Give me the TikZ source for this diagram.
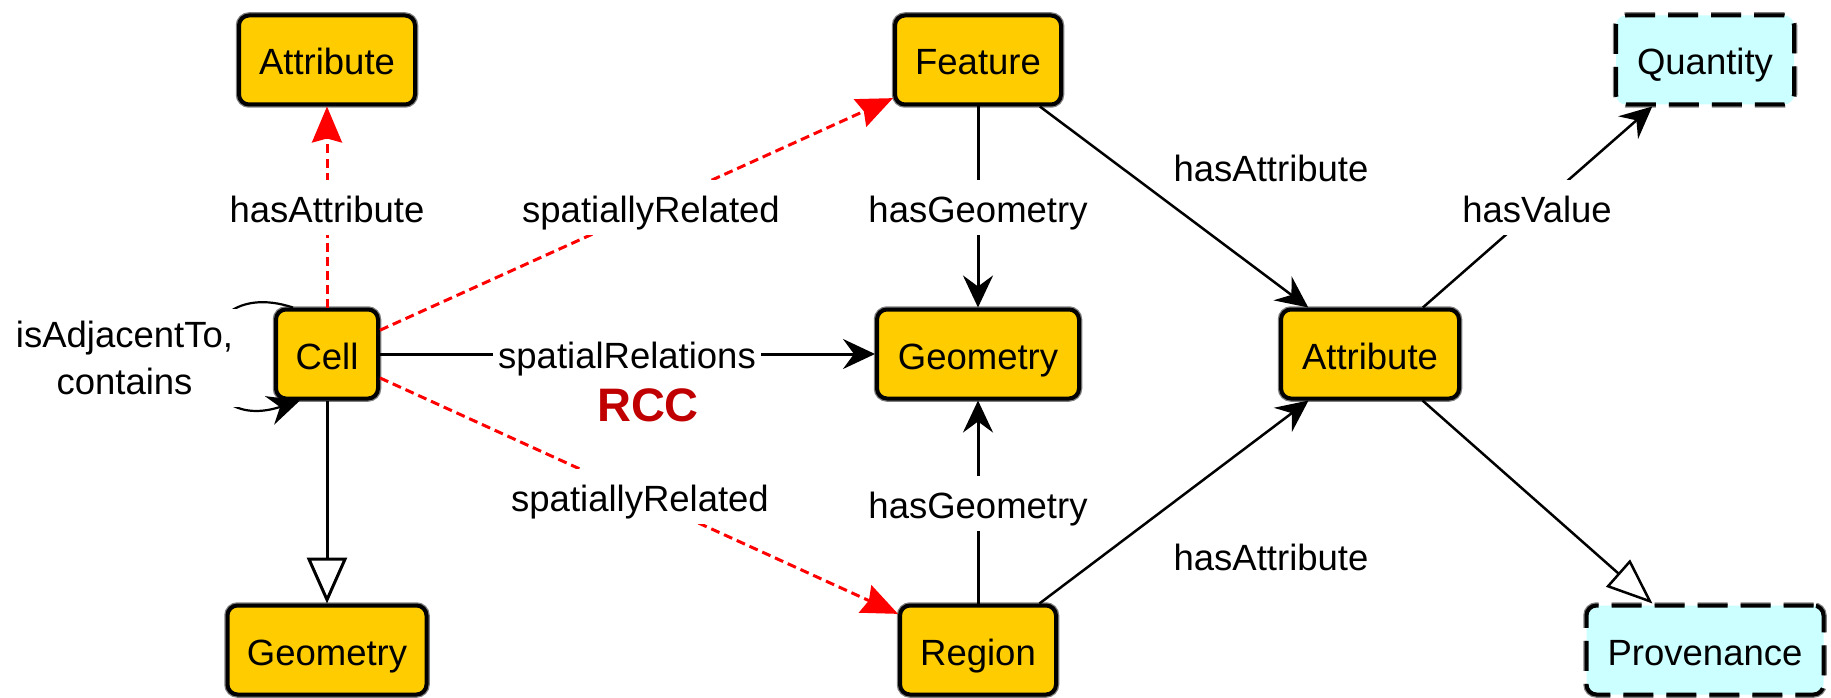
\documentclass[tikz,border=0pt]{standalone}
\usepackage{fontspec}
\setmainfont{Liberation Sans}
\usetikzlibrary{arrows.meta,calc}

\definecolor{clsfill}{HTML}{FFCC00}
\definecolor{extfill}{HTML}{CCFFFF}
\definecolor{rccred}{HTML}{C00000}
\definecolor{halo}{HTML}{7F7F7F}

\begin{document}
\begin{tikzpicture}[x=1pt,y=-1pt,
  font=\fontsize{36.5}{47}\selectfont,
  box/.style={rectangle, rounded corners=10pt, line width=4pt,
    minimum height=89pt, inner sep=0pt, text height=30pt, text depth=0pt},
  cls/.style={box, draw=black, fill=clsfill,
    preaction={draw=halo, line width=6.5pt}},
  ext/.style={box, draw=black, fill=extfill, dash pattern=on 30pt off 13pt,
    preaction={draw=halo, line width=6.5pt, dash pattern=on 30pt off 13pt}},
  rel/.style={line width=3pt, -{Stealth[length=32pt,width=30pt,inset=11pt]}},
  relthin/.style={line width=2.5pt, -{Stealth[length=32pt,width=30pt,inset=11pt]}},
  sprel/.style={draw=red, line width=3pt, dash pattern=on 9pt off 5pt,
    -{Stealth[length=36pt,width=30pt,inset=4pt,fill=red]}},
  isa/.style={line width=3pt, -{Triangle[open,length=46pt,width=40pt,fill=white]}},
  isathin/.style={line width=2.5pt, -{Triangle[open,length=46pt,width=36pt,fill=white]}},
  lbl/.style={fill=white, inner xsep=5pt, inner ysep=9.5pt, text height=33pt, text depth=3pt},
  plainlbl/.style={inner sep=0pt, text height=33pt, text depth=3pt}
]
\useasboundingbox (0,0) rectangle (1831,698);

% classes
\node[cls, minimum width=176pt] (attrL)   at (327,60)   {Attribute};
\node[cls, minimum width=102pt] (cell)    at (327,354)  {Cell};
\node[cls, minimum width=199pt] (geomL)   at (327,650)  {Geometry};
\node[cls, minimum width=166pt] (feature) at (978,60)   {Feature};
\node[cls, minimum width=202pt] (geomM)   at (978,354)  {Geometry};
\node[cls, minimum width=156pt] (region)  at (978,650)  {Region};
\node[cls, minimum width=178pt] (attrR)   at (1370,354) {Attribute};
% external vocabularies
\node[ext, minimum width=178pt] (quantity)   at (1705,60)  {Quantity};
\node[ext, minimum width=237pt] (provenance) at (1705,650) {Provenance};

% relations
\draw[sprel] (cell) -- (attrL);
\draw[sprel] (cell) -- (feature);
\draw[sprel] (cell) -- (region);
\draw[rel] (cell) -- (geomM);
\draw[isa] (cell) -- (geomL);
\draw[rel] (feature) -- (geomM);
\draw[rel] (region) -- (geomM);
\draw[relthin] (feature) -- (attrR);
\draw[relthin] (region) -- (attrR);
\draw[relthin] (attrR) -- (quantity);
\draw[isathin] (attrR) -- (provenance);
% self relation on Cell
\draw[rel, line width=2.2pt]
  ($(cell.north west)+(19,0)$) .. controls +(-113,-37) and +(-120,39) ..
  ($(cell.south west)+(26,0)$);

% relation labels
\node[lbl] (lHasAttrL) at (327,207) {hasAttribute};
\node[lbl] (lSpatUp)   at (651,207) {spatiallyRelated};
\node[lbl] (lSpatRel)  at (627,353) {spatialRelations};
\node[lbl] (lSpatLow)  at (640,496) {spatiallyRelated};
\node[lbl] (lGeoUp)    at (978,207) {hasGeometry};
\node[lbl] (lGeoLow)   at (978,503) {hasGeometry};
\node[lbl] (lValue)    at (1537,207) {hasValue};
\node[plainlbl] (lAttrR1) at (1271,167) {hasAttribute};
\node[plainlbl] (lAttrR2) at (1271,555) {hasAttribute};
\node[fill=white, inner xsep=7pt, inner ysep=12pt, align=center] (lAdj)
  at (124.5,358) {isAdjacentTo,\\contains};
\node[inner sep=0pt, text=rccred, font=\fontsize{47}{56}\selectfont\bfseries]
  (lRCC) at (648,405) {RCC};
\end{tikzpicture}
\end{document}
